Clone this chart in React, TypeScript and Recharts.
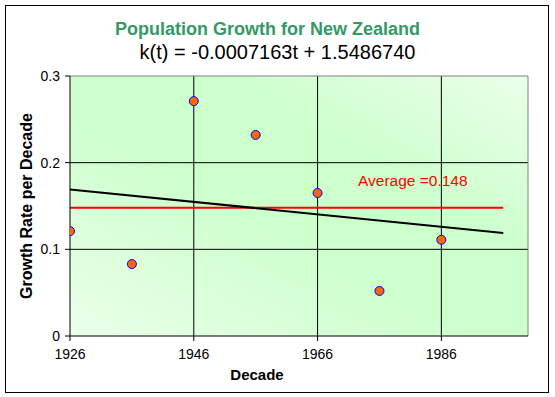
import {
  ComposedChart, Scatter, Line, XAxis, YAxis, CartesianGrid, ReferenceLine,
} from "recharts";

const decades = [1926, 1936, 1946, 1956, 1966, 1976, 1986];
const growthRates = [0.121, 0.083, 0.271, 0.232, 0.165, 0.052, 0.111];
const lineYears = [1926, 1996];
const trendValues = [0.1691, 0.1189];
const averageValues = [0.148, 0.148];
const xTicks = [1926, 1946, 1966, 1986];
const yTicks = [0, 0.1, 0.2, 0.3];

const FONT = "'Liberation Sans', Arial, sans-serif";

const points = decades.map((d, i) => ({ year: d, rate: growthRates[i] }));
const trend = lineYears.map((y, i) => ({ year: y, trend: trendValues[i] }));
const average = lineYears.map((y, i) => ({ year: y, avg: averageValues[i] }));

const Dot = (props: any) => {
  const { cx, cy } = props;
  return <circle cx={cx} cy={cy} r={4.5} fill="#ff6600" stroke="#0000ff" strokeWidth={1} />;
};

export default function App() {
  return (
    <div style={{ position: "absolute", left: 0, top: 0, width: 555, height: 397, background: "#fff", fontFamily: FONT }}>
      <div style={{ position: "absolute", left: 0, top: 0 }}>
        <ComposedChart width={555} height={397} margin={{ left: 10, top: 76, right: 27, bottom: 31 }}>
          <defs>
            <linearGradient id="bg" x1="0" y1="1" x2="1" y2="0">
              <stop offset="0%" stopColor="#eaffea" />
              <stop offset="45%" stopColor="#ccffcc" />
              <stop offset="65%" stopColor="#ccffcc" />
              <stop offset="100%" stopColor="#eaffea" />
            </linearGradient>
          </defs>
          <CartesianGrid
            fill="url(#bg)" fillOpacity={1} stroke="#000" strokeWidth={1}
            horizontalValues={[0.1, 0.2]} verticalValues={[1946, 1966, 1986]}
          />
          <XAxis
            dataKey="year" type="number" domain={[1926, 2000]} ticks={xTicks}
            allowDataOverflow height={30}
            tick={{ fill: "#000", fontSize: 14, fontFamily: FONT }}
            stroke="#000" tickSize={5} tickMargin={8}
          />
          <YAxis
            type="number" domain={[0, 0.3]} ticks={yTicks} width={60}
            tickFormatter={(v: number) => String(v)}
            tick={{ fill: "#000", fontSize: 14, fontFamily: FONT }}
            stroke="#000" tickSize={5} tickMargin={5}
          />
          <ReferenceLine y={0.3} stroke="#808080" strokeWidth={1} />
          <ReferenceLine x={2000} stroke="#808080" strokeWidth={1} />
          <Line
            data={average} dataKey="avg" stroke="#ff0000" strokeWidth={2}
            dot={false} isAnimationActive={false} type="linear"
          />
          <Line
            data={trend} dataKey="trend" stroke="#000" strokeWidth={2}
            dot={false} isAnimationActive={false} type="linear"
          />
          <Scatter data={points} dataKey="rate" shape={<Dot />} isAnimationActive={false} />
        </ComposedChart>
      </div>
      <div style={{
        position: "absolute", left: 5, top: 5, width: 542, height: 386,
        border: "1px solid #000",
      }} />
      <div style={{
        position: "absolute", left: 0, width: 535, top: 18, textAlign: "center",
        color: "#339966", fontWeight: "bold", fontSize: 18, lineHeight: "22px",
      }}>
        Population Growth for New Zealand
      </div>
      <div style={{
        position: "absolute", left: 0, width: 555, top: 40, textAlign: "center",
        color: "#000", fontSize: 20, lineHeight: "24px",
      }}>
        k(t) = -0.0007163t + 1.5486740
      </div>
      <div style={{
        position: "absolute", left: 27, top: 206, transform: "translate(-50%, -50%) rotate(-90deg)",
        whiteSpace: "nowrap", fontWeight: "bold", fontSize: 16,
      }}>
        Growth Rate per Decade
      </div>
      <div style={{
        position: "absolute", left: 0, width: 514, top: 366, textAlign: "center",
        fontWeight: "bold", fontSize: 15, lineHeight: "18px",
      }}>
        Decade
      </div>
      <div style={{
        position: "absolute", left: 358, top: 172, color: "#ff0000", fontSize: 15.5,
        lineHeight: "18px", whiteSpace: "nowrap",
      }}>
        Average =0.148
      </div>
    </div>
  );
}
